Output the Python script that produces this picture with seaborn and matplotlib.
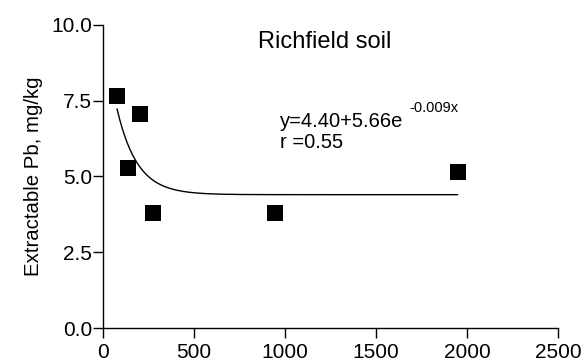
import numpy as np
import pandas as pd
import matplotlib
matplotlib.use("Agg")
import matplotlib.pyplot as plt
from matplotlib.transforms import offset_copy
import seaborn as sns

# Measured extractable Pb for Richfield soil
x_vals = [77, 203, 137, 275, 945, 1949]
pb_vals = [7.66, 7.06, 5.28, 3.80, 3.80, 5.15]

# Fitted model y = a + b*exp(c*x)
fit_a, fit_b, fit_c = 4.40, 5.66, -0.009
fit_r = 0.55

x_ticks = [0, 500, 1000, 1500, 2000, 2500]
y_ticks = [0.0, 2.5, 5.0, 7.5, 10.0]

sns.set_theme(style="ticks", rc={
    "text.color": "black", "axes.labelcolor": "black",
    "xtick.color": "black", "ytick.color": "black",
    "axes.edgecolor": "black",
})
plt.rcParams["font.family"] = ["Liberation Sans", "DejaVu Sans"]

df = pd.DataFrame({"x": x_vals, "pb": pb_vals})
xs = np.linspace(min(x_vals), max(x_vals), 400)
fit_df = pd.DataFrame({"x": xs, "pb": fit_a + fit_b * np.exp(fit_c * xs)})

fig = plt.figure(figsize=(5.86, 3.62), dpi=100)
ax = fig.add_axes([0.1758, 0.0939, 0.7765, 0.8371])

sns.lineplot(data=fit_df, x="x", y="pb", color="black", linewidth=1.0, ax=ax)
sns.scatterplot(data=df, x="x", y="pb", marker="s", s=120, color="black",
                edgecolor="black", linewidth=0, ax=ax, zorder=3)

ax.set_xlim(0, 2500)
ax.set_ylim(0, 10)
ax.set_xticks(x_ticks)
ax.set_xticklabels([str(t) for t in x_ticks])
ax.set_yticks(y_ticks)
ax.set_yticklabels([f"{t:.1f}" for t in y_ticks])
ax.set_xlabel("")
ax.set_ylabel("Extractable Pb, mg/kg", fontsize=14.7, labelpad=6)
ax.tick_params(axis="both", labelsize=15, length=7, width=1, direction="out")
ax.tick_params(axis="y", pad=1)
ax.tick_params(axis="x", pad=4)
sns.despine(ax=ax)
for sp in ("left", "bottom"):
    ax.spines[sp].set_linewidth(1.0)

ax.text(1220, 9.44, "Richfield soil", fontsize=17, ha="center", va="center")

eq = ax.text(972, 6.64, "y=%.2f+%.2fe" % (fit_a, fit_b),
             fontsize=14.5, ha="left", va="baseline")
ax.text(972, 5.94, "r =%.2f" % fit_r, fontsize=14.5, ha="left", va="baseline")

# exponent placed just after the main equation text
fig.canvas.draw()
bb = eq.get_window_extent()
x_end, _ = ax.transData.inverted().transform((bb.x1, bb.y0))
ax.text(x_end, 6.64, "%.3fx" % fit_c, fontsize=10.5, ha="left", va="baseline",
        transform=offset_copy(ax.transData, fig=fig, x=4.5, y=11, units="points"))

fig.savefig("out.png", dpi=100)
